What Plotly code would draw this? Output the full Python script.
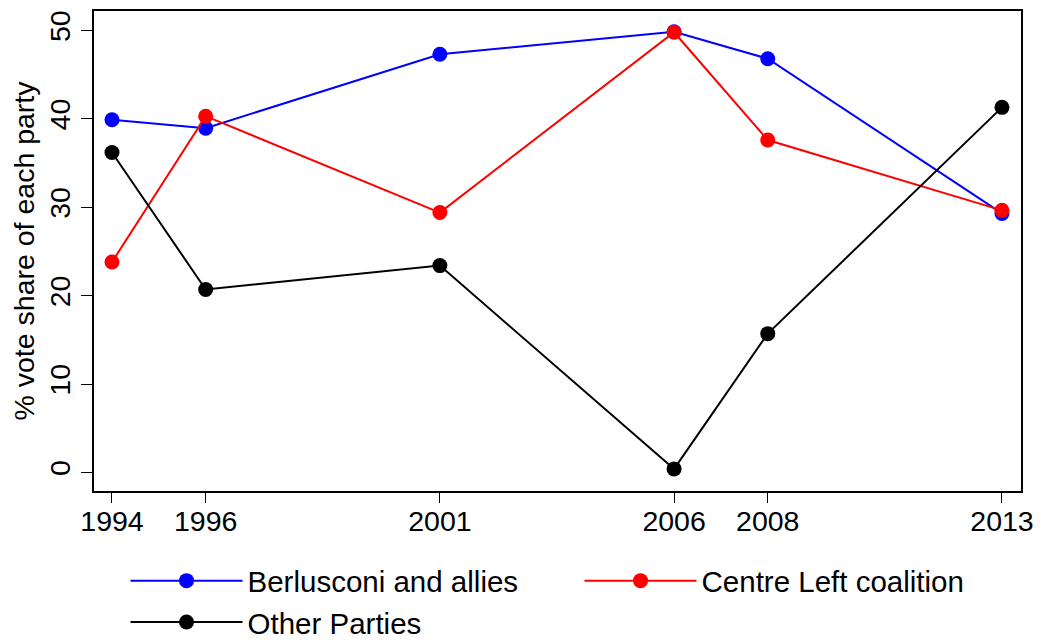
import plotly.graph_objects as go

years = [1994, 1996, 2001, 2006, 2008, 2013]
berlusconi = [39.9, 38.95, 47.3, 49.85, 46.8, 29.3]
centre_left = [23.8, 40.3, 29.4, 49.8, 37.6, 29.65]
others = [36.2, 20.7, 23.4, 0.4, 15.7, 41.3]
series_names = ["Berlusconi and allies", "Centre Left coalition", "Other Parties"]
series_colors = ["#0000FF", "#FF0000", "#000000"]
y_ticks = [0, 10, 20, 30, 40, 50]

FONT = "Liberation Sans, Arial, sans-serif"
FS = 28.5
LFS = 29.5

fig = go.Figure()
for name, vals, col in zip(series_names, [berlusconi, centre_left, others], series_colors):
    fig.add_trace(go.Scatter(
        x=years, y=vals, name=name, mode="lines+markers",
        line=dict(color=col, width=2),
        marker=dict(color=col, size=15),
    ))

fig.update_layout(
    width=1041, height=642,
    margin=dict(l=86, r=28, t=3, b=159, autoexpand=False),
    paper_bgcolor="white", plot_bgcolor="white",
    font=dict(family=FONT, size=FS, color="black"),
    legend=dict(
        orientation="h", x=0.034, xanchor="left",
        yref="container", y=0.148, yanchor="top",
        font=dict(family=FONT, size=LFS, color="black"),
        entrywidth=327, itemwidth=112, tracegroupgap=0,
    ),
)
fig.update_xaxes(
    range=[1993.616, 2013.406], tickvals=years, ticktext=[str(y) for y in years],
    showgrid=False, zeroline=False, showline=True, linecolor="black", linewidth=1.5,
    mirror=True, ticks="outside", ticklen=10, tickwidth=1.2, tickcolor="black",
    tickfont=dict(family=FONT, size=FS), ticklabelstandoff=-6,
)
fig.update_yaxes(
    range=[-2.1, 52.2], tickvals=y_ticks, showgrid=False, zeroline=False,
    showline=True, linecolor="black", linewidth=1.5, mirror=True,
    ticks="outside", ticklen=11, tickwidth=1.2, tickcolor="black",
    tickangle=-90, tickfont=dict(family=FONT, size=FS),
    title=dict(text="% vote share of each party", font=dict(family=FONT, size=FS), standoff=2),
)

fig.write_html("out.html")
